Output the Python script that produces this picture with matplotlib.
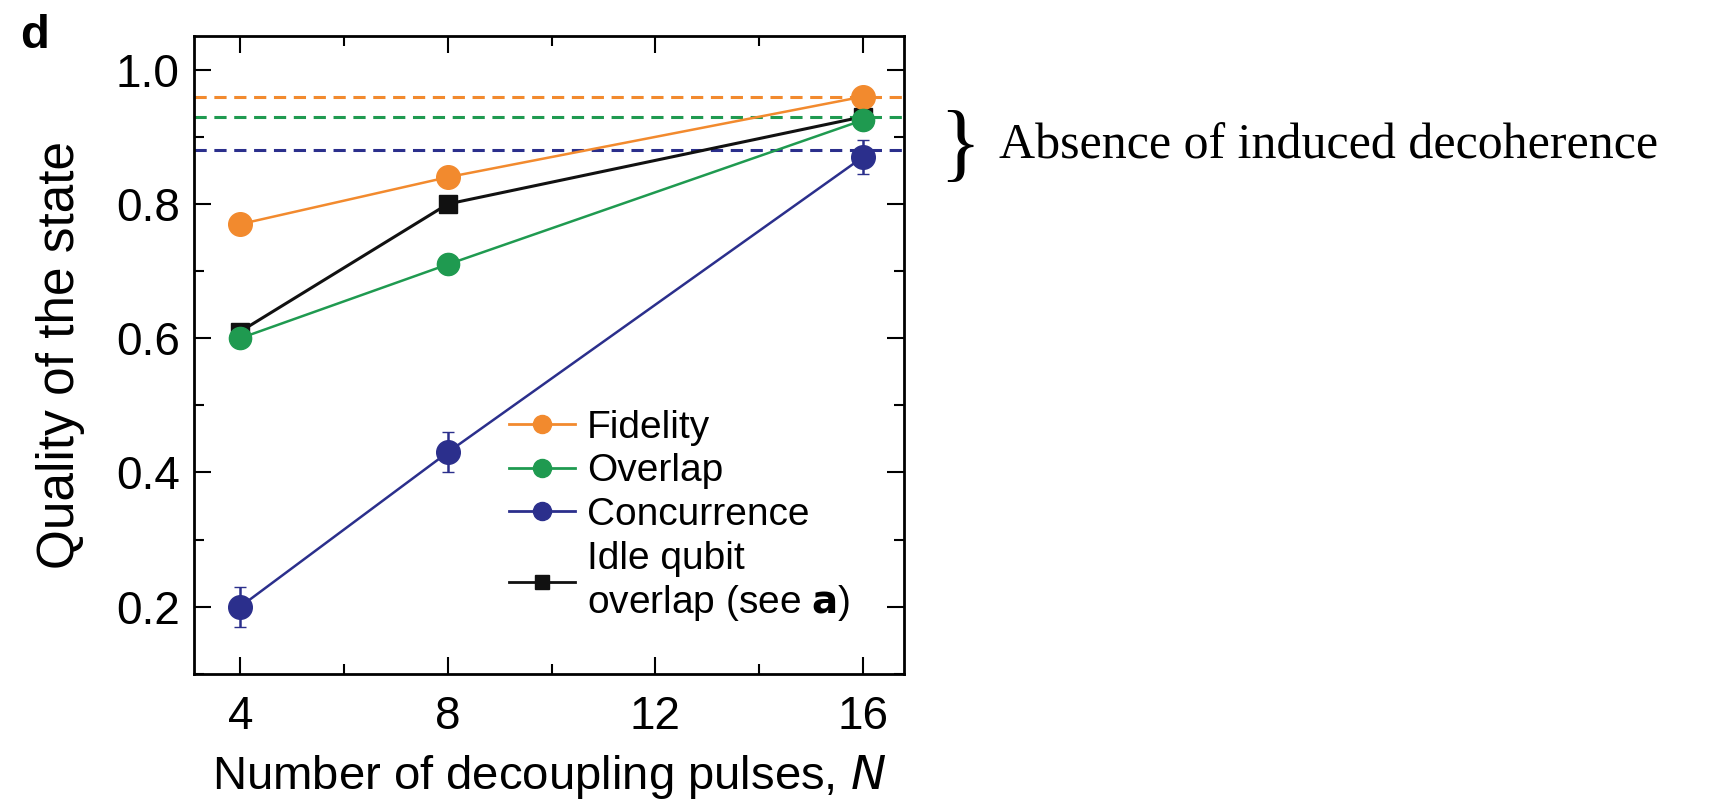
import numpy as np
import matplotlib.pyplot as plt
from matplotlib.ticker import MultipleLocator
from matplotlib.lines import Line2D

plt.rcParams['font.family'] = ['Liberation Sans', 'DejaVu Sans']

# number of decoupling pulses
N = [4, 8, 16]

fidelity = [0.77, 0.84, 0.96]
fidelity_err = [0.01, 0.01, 0.01]
overlap = [0.60, 0.71, 0.925]
overlap_err = [0.012, 0.015, 0.012]
concurrence = [0.20, 0.43, 0.87]
concurrence_err = [0.03, 0.03, 0.025]
idle = [0.61, 0.80, 0.93]

# no induced decoherence levels
ref_fidelity = 0.96
ref_overlap = 0.93
ref_concurrence = 0.88

c_orange = '#F28A2E'
c_green = '#1F9A50'
c_blue = '#2B2F8C'
c_black = '#111111'

fig = plt.figure(figsize=(17.13, 8.05), dpi=100)
ax = fig.add_axes([0.113, 0.163, 0.415, 0.792])

ax.axhline(ref_fidelity, color=c_orange, ls=(0, (4, 2.5)), lw=2.2)
ax.axhline(ref_overlap, color=c_green, ls=(0, (4, 2.5)), lw=2.2)
ax.axhline(ref_concurrence, color=c_blue, ls=(0, (4, 2.5)), lw=2.2)

ax.errorbar(N, fidelity, yerr=fidelity_err, color=c_orange, marker='o', ms=17,
            lw=1.8, capsize=3)
ax.errorbar(N, overlap, yerr=overlap_err, color=c_green, marker='o', ms=16,
            lw=1.8, capsize=3)
ax.errorbar(N, concurrence, yerr=concurrence_err, color=c_blue, marker='o', ms=17,
            lw=1.8, capsize=4)
ax.plot(N, idle, color=c_black, marker='s', ms=13, lw=2.2)

ax.set_xlim(3.1, 16.8)
ax.set_ylim(0.1, 1.05)
ax.set_xticks([4, 8, 12, 16])
ax.xaxis.set_minor_locator(MultipleLocator(2))
ax.yaxis.set_major_locator(MultipleLocator(0.2))
ax.yaxis.set_minor_locator(MultipleLocator(0.1))
ax.tick_params(which='both', direction='in', top=True, right=True, width=1.5)
ax.tick_params(which='major', length=12, labelsize=33, pad=10)
ax.tick_params(axis='x', which='major', pad=15)
ax.tick_params(which='minor', length=7)
for s in ax.spines.values():
    s.set_linewidth(2)

ax.set_xlabel('Number of decoupling pulses, $\\mathit{N}$', fontsize=34, labelpad=10)
ax.set_ylabel('Quality of the state', fontsize=37, labelpad=22)

handles = [
    Line2D([], [], color=c_orange, marker='o', ms=13, lw=2),
    Line2D([], [], color=c_green, marker='o', ms=13, lw=2),
    Line2D([], [], color=c_blue, marker='o', ms=13, lw=2),
    Line2D([], [], color=c_black, marker='s', ms=10, lw=2),
]
labels = ['Fidelity', 'Overlap', 'Concurrence', 'Idle qubit\noverlap (see $\\mathbf{a}$)']
ax.legend(handles, labels, loc='lower left', bbox_to_anchor=(0.395, 0.025),
          frameon=False, fontsize=28, handlelength=1.7, handletextpad=0.3,
          labelspacing=0.2)

fig.text(0.012, 0.955, 'd', fontsize=34, fontweight='bold', va='center')

fig.text(0.548, 0.815, '}', fontsize=62, family='Liberation Serif', va='center')
fig.text(0.583, 0.818, 'Absence of induced decoherence', fontsize=36,
         family='Liberation Serif', va='center')

fig.savefig('out.png', dpi=100)
